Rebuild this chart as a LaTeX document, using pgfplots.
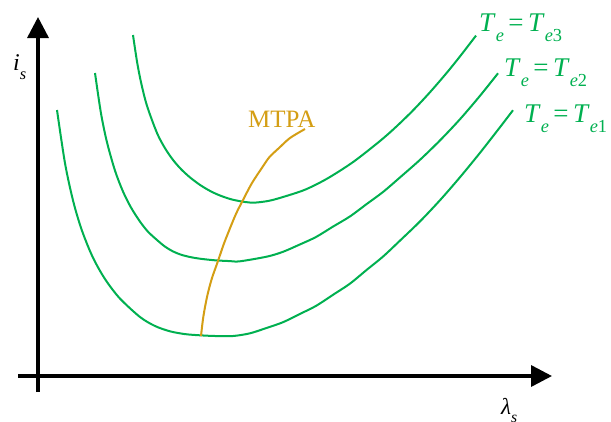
\documentclass[border=0pt]{standalone}
\usepackage{pgfplots}
\pgfplotsset{compat=1.18}
\usepackage{fontspec}
\setmainfont{Liberation Serif}
\usetikzlibrary{arrows.meta}

\definecolor{curvegreen}{RGB}{0,176,80}
\definecolor{mtpaorange}{RGB}{212,158,20}

% italic symbol with a lowered subscript (#3 is an optional upright index)
\newcommand{\sym}[3]{\textit{#1}\raisebox{-0.38em}{\fontsize{0.68em}{1em}\selectfont\textit{#2}#3}}

\begin{document}
\begin{tikzpicture}
\begin{axis}[
  width=611pt, height=421pt, scale only axis,
  xmin=0, xmax=611, ymin=0, ymax=421, y dir=reverse,
  hide axis, clip=false,
]
% axes with arrow heads
\addplot[black, line width=3.5pt, -{Triangle[length=21pt,width=21pt]}]
  coordinates {(38,392) (38,17)};
\addplot[black, line width=3.5pt, -{Triangle[length=21pt,width=21pt]}]
  coordinates {(18,376) (552,376)};

% constant-torque curves, T_e1 (lowest) to T_e3 (highest)
\addplot[curvegreen, line width=2pt, smooth] coordinates {
  (57,110) (65,163.2) (73,200.4) (81,227.8) (90,251.1) (98,267.3) (107,282)
  (120,298.6) (140,317) (155,326) (170,331.3) (185,334.1) (200,335.3)
  (215,336) (233,336) (250,333.3) (267,327.8) (283,322.2) (300,313.9)
  (316,305.9) (333,294.8) (350,283.6) (367,269.6) (383,256.6) (400,240.6)
  (420,221.4) (440,200.2) (460,177.2) (480,152.8) (500,127.2) (513,110.2)};
\addplot[curvegreen, line width=2pt, smooth] coordinates {
  (95,73) (101,113.4) (107,142.3) (115,170.6) (123,191.5) (131,207.5)
  (140,221.6) (148,231.7) (157,240) (165,246.6) (173,251.4) (181,254.7)
  (190,257) (200,258.7) (215,260.3) (230,261.1) (240,261.3) (267,256.6)
  (283,251.8) (300,244.4) (316,237) (333,226.6) (350,216.4) (367,203.8)
  (383,192) (400,177.4) (420,159.8) (440,140.4) (460,119.2) (480,95.8)
  (498,73.3)};
\addplot[curvegreen, line width=2pt, smooth] coordinates {
  (133,35) (137,61.5) (141,82.2) (147,105.8) (157,133) (165,148.2)
  (173,159.9) (181,169.1) (190,177.4) (200,184.9) (210,190.9) (220,195.5)
  (232,199.5) (245,202) (255,202.6) (269,200.8) (283,197) (305,189.7)
  (327,178.7) (353,162.1) (380,141) (396,126.9) (413,110.4) (430,92.2)
  (447,72.5) (461,55.1) (476,35.6)};

% MTPA trajectory
\addplot[mtpaorange, line width=2pt, smooth] coordinates {
  (201,336) (203.3,317) (207,297) (211.7,279) (218,261) (223.8,244)
  (230.5,227) (236.4,213) (243,200) (252,183) (262.5,167) (269.5,157)
  (279,148) (290,138) (305,129)};

% labels
\node[anchor=base west, text=mtpaorange, font=\fontsize{25}{28}\selectfont, inner sep=0pt]
  at (axis cs:248,127) {MTPA};
\node[anchor=base west, text=curvegreen, font=\fontsize{27}{30}\selectfont, inner sep=0pt]
  at (axis cs:479,31) {\sym{T}{e}{}\,=\,\sym{T}{e}{3}};
\node[anchor=base west, text=curvegreen, font=\fontsize{27}{30}\selectfont, inner sep=0pt]
  at (axis cs:504,76) {\sym{T}{e}{}\,=\,\sym{T}{e}{2}};
\node[anchor=base west, text=curvegreen, font=\fontsize{27}{30}\selectfont, inner sep=0pt]
  at (axis cs:524,122) {\sym{T}{e}{}\,=\,\sym{T}{e}{1}};
\node[anchor=base west, font=\fontsize{24}{26}\selectfont, inner sep=0pt]
  at (axis cs:13,70) {\sym{i}{s}{}};
\node[anchor=base west, font=\fontsize{23}{26}\selectfont, inner sep=0pt]
  at (axis cs:501,414) {\sym{λ}{s}{}};
\end{axis}
\pgfresetboundingbox
\path[use as bounding box] (current axis.south west) rectangle (current axis.north east);
\end{tikzpicture}
\end{document}
